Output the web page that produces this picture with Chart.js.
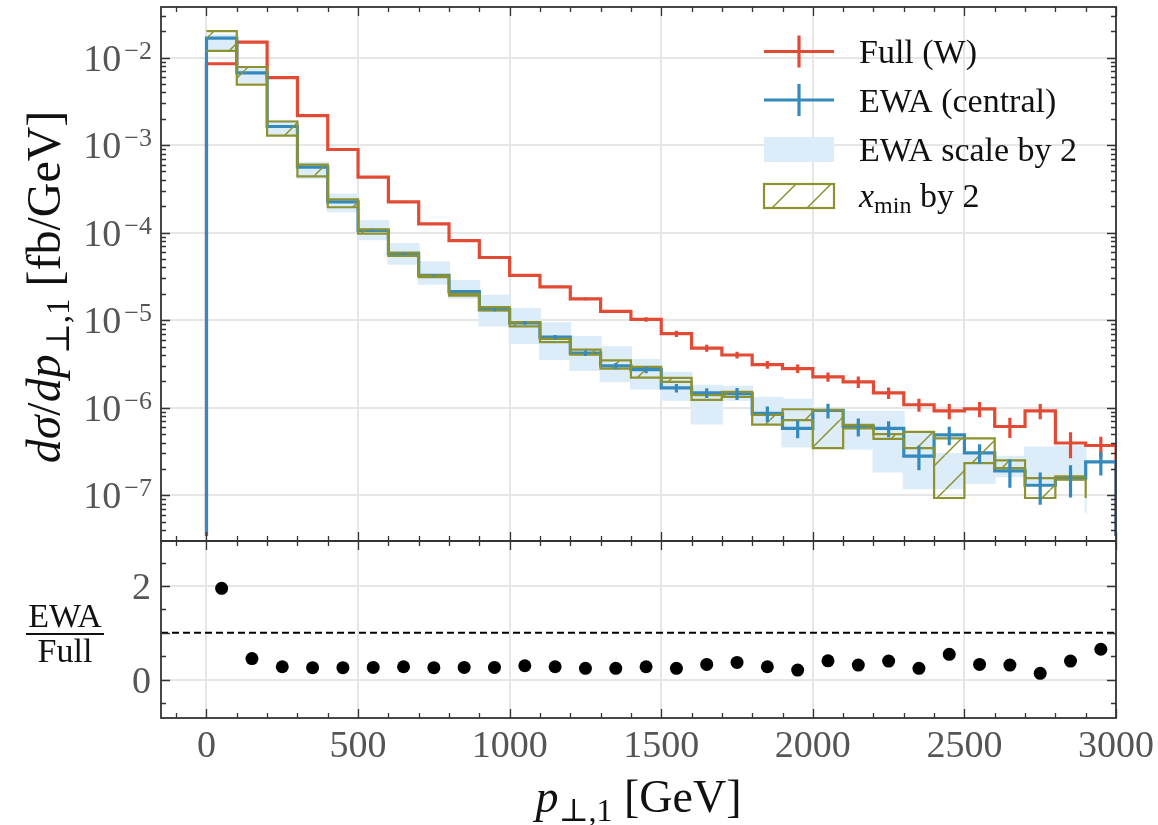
<!DOCTYPE html>
<html>
<head>
<meta charset="utf-8">
<script src="https://cdn.jsdelivr.net/npm/chart.js@4.4.1/dist/chart.umd.min.js"></script>
<style>
    html, body { margin: 0; padding: 0; background: #fff; }
    #wrap { position: relative; width: 1158px; height: 825px; }
    #wrap canvas { position: absolute; left: 0; top: 0; }
</style>
</head>
<body>
<div id="wrap">
    <canvas id="specChart" width="1158" height="825"></canvas>
    <canvas id="ratioChart" width="1158" height="825"></canvas>
</div>
<script>
// bins in pT,1 (GeV)
var binEdges = [0, 100, 200, 300, 400, 500, 600, 700, 800, 900, 1000, 1100, 1200, 1300, 1400, 1500,
    1600, 1700, 1800, 1900, 2000, 2100, 2200, 2300, 2400, 2500, 2600, 2700, 2800, 2900, 3000];

// dsigma/dpT [fb/GeV]
var fullW = [8.5e-3, 1.5e-2, 5.9e-3, 2.17e-3, 8.9e-4, 4.3e-4, 2.25e-4, 1.26e-4, 8.1e-5, 5.2e-5,
    3.25e-5, 2.4e-5, 1.75e-5, 1.26e-5, 1.02e-5, 7.0e-6, 4.8e-6, 4.0e-6, 3.1e-6, 2.8e-6,
    2.25e-6, 1.97e-6, 1.48e-6, 1.08e-6, 9.2e-7, 9.7e-7, 6.1e-7, 9.2e-7, 3.95e-7, 3.7e-7];
var fullWRelErr = [0.005, 0.005, 0.005, 0.005, 0.01, 0.01, 0.01, 0.015, 0.02, 0.02,
    0.025, 0.03, 0.035, 0.04, 0.06, 0.08, 0.09, 0.09, 0.1, 0.11,
    0.12, 0.15, 0.15, 0.17, 0.2, 0.2, 0.26, 0.2, 0.33, 0.26];

var ewaCentral = [1.67e-2, 6.7e-3, 1.63e-3, 5.6e-4, 2.24e-4, 1.06e-4, 5.77e-5, 3.24e-5, 2.12e-5, 1.32e-5,
    9.3e-6, 6.4e-6, 4.2e-6, 3.0e-6, 2.72e-6, 1.68e-6, 1.48e-6, 1.45e-6, 8.6e-7, 5.8e-7,
    9.3e-7, 6.1e-7, 5.8e-7, 2.8e-7, 4.9e-7, 3.05e-7, 1.9e-7, 1.3e-7, 1.57e-7, 2.4e-7];
var ewaRelErr = [0.01, 0.01, 0.01, 0.01, 0.01, 0.015, 0.02, 0.02, 0.03, 0.04,
    0.05, 0.06, 0.07, 0.08, 0.09, 0.11, 0.13, 0.155, 0.2, 0.23,
    0.19, 0.23, 0.21, 0.31, 0.24, 0.25, 0.36, 0.4, 0.4, 0.3];

// EWA scale varied by 2 (envelope)
var ewaScaleHi = [1.8e-2, 7.5e-3, 1.9e-3, 6.3e-4, 2.72e-4, 1.36e-4, 7.4e-5, 4.6e-5, 2.8e-5, 1.9e-5,
    1.34e-5, 9.2e-6, 6.4e-6, 4.9e-6, 3.5e-6, 2.5e-6, 1.78e-6, 1.74e-6, 1.3e-6, 1.23e-6,
    9.0e-7, 9.0e-7, 9.0e-7, 5.1e-7, 2.95e-7, 3.0e-7, 2.75e-7, 3.5e-7, 3.6e-7, 1.7e-7];
var ewaScaleLo = [1.2e-2, 5.3e-3, 1.3e-3, 4.2e-4, 1.76e-4, 8.4e-5, 4.4e-5, 2.6e-5, 1.8e-5, 8.7e-6,
    5.5e-6, 3.6e-6, 2.7e-6, 2.0e-6, 1.66e-6, 1.23e-6, 6.6e-7, 1.23e-6, 6.5e-7, 3.6e-7,
    3.5e-7, 3.4e-7, 1.87e-7, 1.2e-7, 1.2e-7, 1.38e-7, 1.65e-7, 1.4e-7, 1.5e-7, 6.3e-8];

// x_min varied by 2 (envelope)
var xminHi = [2.0e-2, 7.8e-3, 1.86e-3, 5.97e-4, 2.4e-4, 1.09e-4, 5.93e-5, 3.24e-5, 2.0e-5, 1.41e-5,
    9.5e-6, 6.1e-6, 4.6e-6, 3.48e-6, 2.92e-6, 2.19e-6, 1.39e-6, 1.52e-6, 8.3e-7, 9.6e-7,
    9.4e-7, 6.35e-7, 5.0e-7, 5.3e-7, 4.47e-7, 4.47e-7, 2.5e-7, 1.57e-7, 1.64e-7, 1.64e-7];
var xminLo = [1.19e-2, 4.9e-3, 1.28e-3, 4.4e-4, 1.95e-4, 9.75e-5, 5.43e-5, 3.09e-5, 1.9e-5, 1.29e-5,
    8.5e-6, 5.6e-6, 4.04e-6, 2.8e-6, 2.21e-6, 1.97e-6, 1.23e-6, 1.33e-6, 6.4e-7, 7.2e-7,
    3.45e-7, 5.8e-7, 4.4e-7, 3.45e-7, 9.3e-8, 2.33e-7, 2.04e-7, 9.3e-8, 1.51e-7, 9.3e-8];

// EWA / Full per bin
var ewaOverFull = [1.95, 0.45, 0.275, 0.254, 0.254, 0.26, 0.275, 0.254, 0.26, 0.26,
    0.296, 0.275, 0.24, 0.24, 0.275, 0.24, 0.324, 0.366, 0.275, 0.204,
    0.40, 0.31, 0.395, 0.24, 0.54, 0.324, 0.31, 0.134, 0.395, 0.648];

var xTickValues = [0, 500, 1000, 1500, 2000, 2500, 3000];
var yDecades = [1e-7, 1e-6, 1e-5, 1e-4, 1e-3, 1e-2];
var ratioTicks = [0, 2];

var xMin = -150, xMax = 3000;
var yMin = 3.43e-8, yMax = 3.78e-2;
var rMin = -0.82, rMax = 2.96;

var fullColor = '#e24a33';
var ewaColor = '#348abd';
var bandColor = '#dcedf9';
var oliveColor = '#8c9230';
var gridColor = '#e6e6e6';
var axisColor = '#333333';
var labelColor = '#555555';
var serif = '"Liberation Serif", "DejaVu Serif", serif';

function hatch(color, step) {
    var c = document.createElement('canvas');
    c.width = step;
    c.height = step;
    var g = c.getContext('2d');
    g.strokeStyle = color;
    g.lineWidth = 1.5;
    g.beginPath();
    [-step, 0, step].forEach(function (k) {
        g.moveTo(k, step);
        g.lineTo(k + step, 0);
    });
    g.stroke();
    return g.createPattern(c, 'repeat');
}
var hatchFill = hatch(oliveColor, 35);

// closed histogram outline: rises from the axis floor at the first edge, drops back at the last
function histLine(vals) {
    var pts = [{ x: binEdges[0], y: yMin }];
    for (var i = 0; i < vals.length; i++) {
        pts.push({ x: binEdges[i], y: vals[i] });
    }
    pts.push({ x: binEdges[vals.length], y: vals[vals.length - 1] });
    pts.push({ x: binEdges[vals.length], y: yMin });
    return pts;
}
// envelope edge, one point per bin start
function stepEdge(vals) {
    return vals.map(function (v, i) { return { x: binEdges[i], y: v }; });
}
function binCenters() {
    var c = [];
    for (var i = 0; i < binEdges.length - 1; i++) c.push((binEdges[i] + binEdges[i + 1]) / 2);
    return c;
}

function richWidth(ctx, parts) {
    var w = 0;
    parts.forEach(function (p) { ctx.font = p.font; w += ctx.measureText(p.text).width; });
    return w;
}
function drawRich(ctx, parts, x, y) {
    ctx.textAlign = 'left';
    ctx.textBaseline = 'alphabetic';
    parts.forEach(function (p) {
        ctx.font = p.font;
        ctx.fillText(p.text, x, y + (p.dy || 0));
        x += ctx.measureText(p.text).width;
    });
}

function errorBars(ctx, xs, ys, vals, rel, color) {
    var centers = binCenters();
    ctx.strokeStyle = color;
    ctx.lineWidth = 3.2;
    ctx.lineCap = 'butt';
    ctx.beginPath();
    vals.forEach(function (v, i) {
        var px = xs.getPixelForValue(centers[i]);
        ctx.moveTo(px, ys.getPixelForValue(v * (1 + rel[i])));
        ctx.lineTo(px, ys.getPixelForValue(v * (1 - rel[i])));
    });
    ctx.stroke();
}

// frame plus inward ticks on all four sides
function frameTicks(chart, yMajor, yMinor) {
    var ctx = chart.ctx, a = chart.chartArea;
    var xs = chart.scales.x, ys = chart.scales.y;
    ctx.save();
    ctx.strokeStyle = axisColor;
    ctx.lineWidth = 1.3;
    ctx.beginPath();
    for (var v = -100; v <= 3000; v += 100) {
        var px = Math.round(xs.getPixelForValue(v)) + 0.5;
        var len = v % 500 === 0 ? 9 : 5;
        ctx.moveTo(px, a.top); ctx.lineTo(px, a.top + len);
        ctx.moveTo(px, a.bottom); ctx.lineTo(px, a.bottom - len);
    }
    yMajor.forEach(function (t) {
        var py = Math.round(ys.getPixelForValue(t)) + 0.5;
        ctx.moveTo(a.left, py); ctx.lineTo(a.left + 9, py);
        ctx.moveTo(a.right, py); ctx.lineTo(a.right - 9, py);
    });
    yMinor.forEach(function (t) {
        var py = Math.round(ys.getPixelForValue(t)) + 0.5;
        ctx.moveTo(a.left, py); ctx.lineTo(a.left + 5, py);
        ctx.moveTo(a.right, py); ctx.lineTo(a.right - 5, py);
    });
    ctx.stroke();
    ctx.lineWidth = 1.8;
    ctx.strokeRect(a.left, a.top, a.right - a.left, a.bottom - a.top);
    ctx.restore();
}

function drawLegend(ctx) {
    var x0 = 764, x1 = 834, xm = 799, tx = 859;
    var rows = [51.5, 100, 149.5, 196];
    var big = '34px ' + serif;
    ctx.save();
    ctx.lineCap = 'butt';
    [[fullColor, rows[0]], [ewaColor, rows[1]]].forEach(function (r) {
        ctx.strokeStyle = r[0];
        ctx.lineWidth = 3.2;
        ctx.beginPath();
        ctx.moveTo(x0, r[1]); ctx.lineTo(x1, r[1]);
        ctx.moveTo(xm, r[1] - 16); ctx.lineTo(xm, r[1] + 16);
        ctx.stroke();
    });
    ctx.fillStyle = bandColor;
    ctx.fillRect(x0, rows[2] - 12.5, x1 - x0, 25);
    ctx.fillStyle = hatchFill;
    ctx.fillRect(x0, rows[3] - 12, x1 - x0, 24);
    ctx.strokeStyle = oliveColor;
    ctx.lineWidth = 2.2;
    ctx.strokeRect(x0, rows[3] - 12, x1 - x0, 24);

    ctx.fillStyle = '#111';
    drawRich(ctx, [{ text: 'Full (W)', font: big }], tx, rows[0] + 11.5);
    drawRich(ctx, [{ text: 'EWA (central)', font: big }], tx, rows[1] + 11.5);
    drawRich(ctx, [{ text: 'EWA scale by 2', font: big }], tx, rows[2] + 11.5);
    drawRich(ctx, [
        { text: 'x', font: 'italic ' + big },
        { text: 'min', font: '24px ' + serif, dy: 6 },
        { text: ' by 2', font: big }
    ], tx, rows[3] + 10.5);
    ctx.restore();
}

var specDecor = {
    id: 'specDecor',
    afterDatasetsDraw: function (chart) {
        var ctx = chart.ctx, a = chart.chartArea;
        ctx.save();
        ctx.beginPath();
        ctx.rect(a.left, a.top, a.right - a.left, a.bottom - a.top);
        ctx.clip();
        errorBars(ctx, chart.scales.x, chart.scales.y, fullW, fullWRelErr, fullColor);
        errorBars(ctx, chart.scales.x, chart.scales.y, ewaCentral, ewaRelErr, ewaColor);
        ctx.restore();
    },
    afterDraw: function (chart) {
        var ctx = chart.ctx, ys = chart.scales.y;
        var minor = [];
        for (var e = -8; e <= -2; e++) {
            for (var k = 2; k <= 9; k++) {
                var m = k * Math.pow(10, e);
                if (m > yMin && m < yMax) minor.push(m);
            }
        }
        frameTicks(chart, yDecades, minor);

        // decade labels 10^n
        ctx.save();
        ctx.fillStyle = labelColor;
        ys.ticks.forEach(function (t) {
            var py = ys.getPixelForValue(t.value);
            var ex = '\u2212' + Math.abs(Math.round(Math.log10(t.value)));
            ctx.font = '26px ' + serif;
            var we = ctx.measureText(ex).width;
            ctx.textAlign = 'left';
            ctx.fillText(ex, 152 - we, py + 1);
            ctx.font = '38px ' + serif;
            ctx.textAlign = 'right';
            ctx.fillText('10', 152 - we - 3, py + 13);
        });
        ctx.restore();

        // y title
        var titleFont = '48px ' + serif;
        var parts = [
            { text: 'd\u03c3', font: 'italic ' + titleFont },
            { text: '/', font: titleFont },
            { text: 'dp', font: 'italic ' + titleFont },
            { text: '\u22a5,1', font: '33px ' + serif, dy: 9 },
            { text: ' [fb/GeV]', font: titleFont }
        ];
        ctx.save();
        ctx.fillStyle = '#111';
        var w = richWidth(ctx, parts);
        ctx.translate(60, 287);
        ctx.rotate(-Math.PI / 2);
        drawRich(ctx, parts, -w / 2, 0);
        ctx.restore();

        drawLegend(ctx);
    }
};

var ratioDecor = {
    id: 'ratioDecor',
    afterDraw: function (chart) {
        var ctx = chart.ctx, xs = chart.scales.x, ys = chart.scales.y;
        frameTicks(chart, [0, 1, 2], [-0.5, 0.5, 1.5, 2.5]);

        ctx.save();
        ctx.fillStyle = labelColor;
        ctx.font = '38px ' + serif;
        ctx.textAlign = 'center';
        xs.ticks.forEach(function (t) {
            ctx.fillText(String(t.value), xs.getPixelForValue(t.value), 757);
        });
        ctx.textAlign = 'right';
        ys.ticks.forEach(function (t) {
            ctx.fillText(String(t.value), 151, ys.getPixelForValue(t.value) + 13);
        });

        // x title
        ctx.fillStyle = '#111';
        var titleFont = '46px ' + serif;
        var parts = [
            { text: 'p', font: 'italic ' + titleFont },
            { text: '\u22a5,1', font: '32px ' + serif, dy: 9 },
            { text: ' [GeV]', font: titleFont }
        ];
        var w = richWidth(ctx, parts);
        drawRich(ctx, parts, (chart.chartArea.left + chart.chartArea.right) / 2 - w / 2, 812);

        // ratio label as a fraction
        ctx.font = '34px ' + serif;
        ctx.textAlign = 'center';
        ctx.fillText('EWA', 65, 627);
        ctx.fillText('Full', 65, 662);
        ctx.strokeStyle = '#111';
        ctx.lineWidth = 2;
        ctx.beginPath();
        ctx.moveTo(26, 634); ctx.lineTo(104, 634);
        ctx.stroke();
        ctx.restore();
    }
};

function baseX() {
    return {
        type: 'linear',
        min: xMin,
        max: xMax,
        afterBuildTicks: function (s) { s.ticks = xTickValues.map(function (v) { return { value: v }; }); },
        afterFit: function (s) { s.height = 0; },
        ticks: { display: false },
        grid: { color: gridColor, lineWidth: 2, drawTicks: false },
        border: { display: false }
    };
}

// 'before' holds each value over [edge_i, edge_i+1)
var stepMode = 'before';

var specChart = new Chart(document.getElementById('specChart'), {
    type: 'line',
    data: {
        datasets: [{
            label: 'EWA scale by 2',
            data: stepEdge(ewaScaleHi),
            stepped: stepMode,
            borderColor: bandColor,
            borderWidth: 2,
            backgroundColor: bandColor,
            fill: '+1',
            pointRadius: 0,
            order: 5
        }, {
            label: 'EWA scale low',
            data: stepEdge(ewaScaleLo),
            stepped: stepMode,
            borderColor: bandColor,
            borderWidth: 2,
            fill: false,
            pointRadius: 0,
            order: 5
        }, {
            label: 'Full (W)',
            data: histLine(fullW),
            stepped: stepMode,
            borderColor: fullColor,
            borderWidth: 3.2,
            borderJoinStyle: 'miter',
            fill: false,
            pointRadius: 0,
            order: 4
        }, {
            label: 'EWA (central)',
            data: histLine(ewaCentral),
            stepped: stepMode,
            borderColor: ewaColor,
            borderWidth: 3.2,
            borderJoinStyle: 'miter',
            fill: false,
            pointRadius: 0,
            order: 3
        }, {
            label: 'x_min by 2',
            data: stepEdge(xminHi),
            stepped: stepMode,
            borderColor: oliveColor,
            borderWidth: 2.2,
            backgroundColor: hatchFill,
            fill: '+1',
            pointRadius: 0,
            order: 2
        }, {
            label: 'x_min low',
            data: stepEdge(xminLo),
            stepped: stepMode,
            borderColor: oliveColor,
            borderWidth: 2.2,
            fill: false,
            pointRadius: 0,
            order: 2
        }]
    },
    options: {
        responsive: false,
        animation: false,
        events: [],
        layout: { autoPadding: false, padding: { left: 161, right: 42, top: 7, bottom: 284 } },
        scales: {
            x: baseX(),
            y: {
                type: 'logarithmic',
                min: yMin,
                max: yMax,
                afterBuildTicks: function (s) { s.ticks = yDecades.map(function (v) { return { value: v }; }); },
                afterFit: function (s) { s.width = 0; },
                ticks: { display: false },
                grid: { color: gridColor, lineWidth: 2, drawTicks: false },
                border: { display: false }
            }
        },
        plugins: { legend: { display: false }, tooltip: { enabled: false } }
    },
    plugins: [specDecor]
});

var ratioChart = new Chart(document.getElementById('ratioChart'), {
    type: 'line',
    data: {
        datasets: [{
            label: 'unity',
            data: [{ x: xMin, y: 1 }, { x: xMax, y: 1 }],
            borderColor: '#000',
            borderWidth: 2,
            borderDash: [7, 4],
            pointRadius: 0,
            fill: false,
            order: 1
        }, {
            label: 'EWA/Full',
            data: binCenters().map(function (c, i) { return { x: c, y: ewaOverFull[i] }; }),
            showLine: false,
            pointRadius: 6.5,
            pointBackgroundColor: '#000',
            pointBorderWidth: 0,
            order: 0
        }]
    },
    options: {
        responsive: false,
        animation: false,
        events: [],
        layout: { autoPadding: false, padding: { left: 161, right: 42, top: 541, bottom: 107 } },
        scales: {
            x: baseX(),
            y: {
                type: 'linear',
                min: rMin,
                max: rMax,
                afterBuildTicks: function (s) { s.ticks = ratioTicks.map(function (v) { return { value: v }; }); },
                afterFit: function (s) { s.width = 0; },
                ticks: { display: false },
                grid: { color: gridColor, lineWidth: 2, drawTicks: false },
                border: { display: false }
            }
        },
        plugins: { legend: { display: false }, tooltip: { enabled: false } }
    },
    plugins: [ratioDecor]
});
</script>
</body>
</html>
